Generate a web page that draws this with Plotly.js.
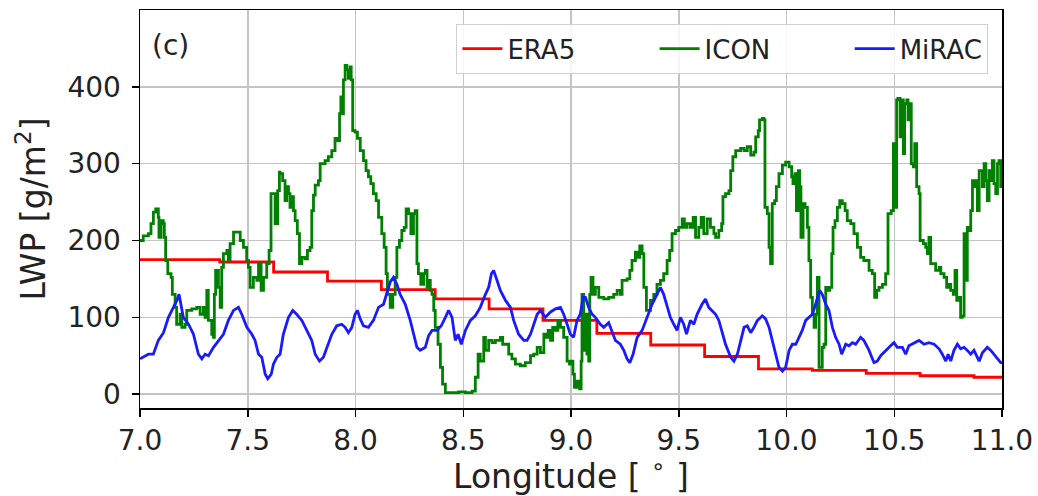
<!DOCTYPE html>
<html>
<head>
<meta charset="utf-8">
<script src="https://cdn.plot.ly/plotly-3.0.1.min.js"></script>
<style>html,body{margin:0;padding:0;background:#fff;}#chart{width:1038px;height:496px;}</style>
</head>
<body>
<div id="chart"></div>
<script>
// ERA5 (step data)
const era5Lon = [7.0,7.37,7.62,7.87,8.12,8.37,8.62,8.87,9.12,9.37,9.62,9.87,10.12,10.37,10.62,10.87,11.0];
const era5Lwp = [175,172,159,147,136,124,111,96,79,64,49,33,31,27,24,22,22];

// ICON
const iconLon = [
 7.000,7.015,7.039,7.051,7.062,7.073,7.085,7.088,7.098,7.108,7.113,7.119,7.129,7.144,7.150,7.163,7.170,7.186,7.194,7.209,
 7.217,7.240,7.263,7.279,7.294,7.302,7.310,7.317,7.333,7.341,7.345,7.351,7.364,7.372,7.379,7.387,7.403,7.410,7.418,7.434,
 7.449,7.465,7.480,7.495,7.503,7.511,7.526,7.542,7.550,7.562,7.573,7.588,7.599,7.608,7.619,7.627,7.639,7.647,
 7.650,7.662,7.673,7.681,7.689,7.696,7.704,7.712,7.720,7.730,7.740,7.751,7.766,7.777,7.789,7.797,7.805,7.813,7.828,7.836,
 7.859,7.874,7.890,7.905,7.916,7.926,7.932,7.936,7.944,7.952,7.960,7.967,7.975,7.980,7.987,7.998,8.009,8.022,8.037,8.049,
 8.060,8.071,8.083,8.096,8.107,8.122,8.133,8.142,8.148,8.161,8.173,8.184,8.192,8.204,8.215,8.226,8.235,8.246,8.257,8.269,
 8.277,8.285,8.292,8.303,8.316,
 8.324,8.332,8.339,8.347,8.355,8.363,8.370,8.383,8.394,8.404,8.417,8.448,8.479,8.510,8.541,8.556,8.569,8.579,8.595,8.603,
 8.618,8.634,8.649,8.672,8.683,8.696,8.711,8.726,8.742,8.765,8.788,8.812,8.827,8.843,8.858,8.874,8.884,8.894,8.905,8.915,
 8.928,8.939,8.951,8.966,8.982,8.993,
 8.997,9.009,9.016,9.028,9.040,9.047,9.051,9.059,9.067,9.074,9.082,9.087,9.093,9.102,9.113,9.129,9.152,9.175,9.198,9.214,
 9.229,9.237,9.260,9.273,9.283,9.299,9.307,9.319,9.330,9.338,9.350,9.369,9.384,9.399,9.415,9.430,9.446,9.458,9.469,9.485,
 9.500,9.516,9.526,9.539,9.554,9.567,9.578,9.593,9.604,9.616,9.632,9.647,9.663,
 9.671,9.686,9.699,9.705,9.717,9.733,9.741,9.751,9.764,9.787,9.803,9.818,9.834,9.849,9.857,9.869,9.875,9.888,9.895,9.900,
 9.911,9.919,9.926,9.934,9.945,9.953,9.965,9.981,9.996,10.012,10.024,10.030,10.039,10.046,10.055,10.061,10.067,10.077,10.086,10.097,
 10.104,10.112,10.120,10.128,10.135,10.143,10.151,10.159,10.166,10.174,10.182,10.190,10.200,10.210,10.216,10.225,10.236,10.247,10.259,10.272,
 10.282,10.298,10.313,10.329,
 10.344,10.359,10.375,10.383,10.398,10.409,10.418,10.429,10.445,10.460,10.471,10.486,10.496,10.503,10.511,10.517,10.527,10.533,10.542,10.548,
 10.558,10.564,10.573,10.579,10.589,10.595,10.604,10.615,10.620,10.635,10.646,10.654,10.661,10.669,10.685,10.692,10.708,10.716,10.731,10.743,
 10.754,10.762,10.774,10.782,10.790,10.801,10.808,10.816,10.824,10.832,10.839,10.847,10.855,10.863,10.870,10.878,10.886,10.894,10.901,10.909,
 10.917,10.925,10.932,10.940,10.948,10.955,10.963,10.971,10.979,10.986,10.994,11.000
];
const iconLwp = [
 200,206,209,222,237,241,230,204,226,222,204,174,157,152,130,113,91,104,87,91,
 109,111,113,104,113,100,135,96,78,74,130,161,139,113,165,183,187,174,196,211,
 211,200,191,174,165,139,152,148,170,135,152,170,187,261,261,222,265,289,
 287,278,252,270,261,243,257,239,226,209,170,178,176,187,191,239,259,272,278,300,
 304,309,317,333,330,365,387,365,409,428,422,411,426,409,343,341,333,317,304,291,
 283,274,261,252,230,209,191,157,130,113,130,152,191,200,213,217,241,235,209,235,
 239,170,157,143,157,
 161,139,148,135,130,109,87,65,35,13,2,2,3,2,4,22,52,43,74,57,
 70,67,70,74,65,65,52,46,39,37,41,50,52,61,54,78,74,83,70,87,
 83,96,87,74,43,39,
 43,26,9,17,7,43,130,57,104,52,43,130,152,130,139,126,124,126,130,135,
 130,148,150,161,174,185,178,193,183,139,109,122,130,143,148,157,174,187,209,213,
 217,228,217,222,217,230,204,217,230,209,228,217,209,
 204,213,222,257,261,265,291,309,317,320,317,322,311,315,335,343,357,359,357,243,
 235,191,170,248,252,270,287,298,302,296,283,274,287,239,291,270,204,248,243,217,
 174,126,104,87,104,152,35,35,61,65,139,135,139,183,217,226,243,252,248,239,
 226,222,209,191,
 178,174,174,161,157,126,135,139,143,157,235,239,326,243,383,385,335,383,313,378,
 383,357,378,300,296,326,270,261,200,196,191,183,204,170,170,161,165,157,152,139,
 143,135,130,161,122,126,100,102,209,148,217,213,239,278,270,278,239,291,291,270,
 300,278,252,291,278,304,274,261,300,304,270,304
];

// MiRAC
const miracLon = [
 7.000,7.023,7.039,7.062,7.085,7.109,7.132,7.155,7.171,7.181,7.191,7.201,7.225,7.248,7.271,7.287,7.302,7.318,7.341,7.364,
 7.387,7.410,7.434,7.457,7.472,7.496,7.519,7.534,7.550,7.565,7.581,7.593,7.609,7.619,7.635,
 7.650,7.665,7.689,7.709,7.727,7.751,7.774,7.797,7.813,7.833,7.851,7.867,7.890,7.913,7.936,7.952,7.967,7.983,7.998,8.009,
 8.022,8.037,8.060,8.083,8.107,8.130,8.145,8.161,8.176,8.192,8.207,8.231,8.254,8.269,8.285,8.300,
 8.324,8.339,8.355,8.378,8.398,8.417,8.432,8.448,8.463,8.476,8.491,8.510,8.533,8.556,8.579,8.603,8.618,8.631,8.641,8.657,
 8.672,8.696,8.719,8.734,8.757,8.781,8.796,8.812,8.827,8.843,8.858,8.881,8.905,8.928,8.951,8.966,8.982,
 8.997,9.012,9.028,9.043,9.056,9.067,9.082,9.098,9.113,9.136,9.152,9.175,9.190,9.206,9.229,9.245,9.260,9.273,9.288,9.307,
 9.330,9.353,9.376,9.399,9.415,9.430,9.446,9.461,9.477,9.492,9.508,9.523,9.536,9.554,9.570,9.585,9.608,9.624,9.639,9.655,
 9.671,9.686,9.702,9.717,9.741,9.756,9.772,9.787,9.803,9.818,9.834,9.849,9.865,9.888,9.903,9.919,9.934,9.950,9.965,9.981,
 9.996,10.012,10.027,10.043,10.058,10.073,10.089,10.104,10.120,10.135,10.154,10.166,10.182,10.197,10.213,10.228,10.244,10.256,10.275,10.290,
 10.306,10.321,
 10.344,10.359,10.383,10.406,10.421,10.437,10.460,10.483,10.499,10.514,10.538,10.553,10.568,10.592,10.615,10.638,10.661,10.685,10.708,10.723,
 10.739,10.750,10.762,10.777,10.793,10.808,10.824,10.839,10.855,10.870,10.894,10.909,10.932,10.948,10.963,10.979,10.994,11.000
];
const miracLwp = [
 46,50,52,52,70,80,100,113,122,130,117,100,91,78,52,46,52,50,61,70,
 78,96,109,113,104,87,78,70,52,48,26,20,26,39,48,
 52,78,100,109,104,96,83,70,52,43,48,61,78,89,91,87,80,87,104,109,
 98,89,87,96,113,117,130,146,152,143,130,117,96,78,61,57,
 61,76,83,83,89,100,109,100,70,78,65,83,96,102,113,130,139,157,161,148,
 135,122,113,96,78,70,70,78,91,104,109,100,107,111,113,104,91,
 78,74,96,104,126,126,113,104,100,91,87,93,83,70,65,57,46,41,52,74,
 83,100,117,130,139,130,113,100,91,83,100,91,78,96,91,104,117,124,113,109,
 104,96,78,65,48,43,52,70,87,89,80,87,96,102,98,87,70,52,35,30,
 35,57,65,65,74,83,96,100,104,117,135,130,117,109,87,74,65,52,65,63,
 67,65,
 74,70,57,41,43,50,57,63,67,61,61,52,63,67,70,65,67,65,59,52,
 43,52,43,57,65,59,61,57,52,57,43,54,61,57,52,46,41,41
];

const seriesNames = ['ERA5','ICON','MiRAC'];
const xTicks = [7.0,7.5,8.0,8.5,9.0,9.5,10.0,10.5,11.0];
const yTicks = [0,100,200,300,400];

const FONT = 'DejaVu Sans, sans-serif';
const PAD = '\u00a0'.repeat(9);
const traces = [
  {x: era5Lon, y: era5Lwp, name: seriesNames[0] + PAD, mode: 'lines', line: {color: '#ff0000', width: 2.8, shape: 'hv'}},
  {x: iconLon, y: iconLwp, name: seriesNames[1] + PAD, mode: 'lines', line: {color: '#008000', width: 2.8, shape: 'hv'}},
  {x: miracLon, y: miracLwp, name: seriesNames[2], mode: 'lines', line: {color: '#1a1aff', width: 2.8}}
];

const layout = {
  width: 1038, height: 496,
  margin: {l: 140, r: 36, t: 10, b: 88},
  paper_bgcolor: '#ffffff', plot_bgcolor: '#ffffff',
  font: {family: FONT, color: '#222', size: 26},
  showlegend: true,
  legend: {
    orientation: 'h', x: 0.984, xanchor: 'right', y: 0.965, yanchor: 'top',
    bgcolor: 'rgba(255,255,255,0.85)', bordercolor: '#d0d0d0', borderwidth: 1.2,
    font: {family: FONT, size: 26, color: '#222'},
    itemwidth: 40, traceorder: 'normal'
  },
  xaxis: {
    range: [7, 11], tickvals: xTicks, ticktext: xTicks.map(v => v.toFixed(1)),
    showgrid: true, gridcolor: '#c4c4c4', gridwidth: 1.5,
    showline: true, linecolor: '#000', linewidth: 1.5, mirror: true,
    ticks: 'outside', ticklen: 7, tickwidth: 1.5, tickcolor: '#000',
    tickfont: {family: FONT, size: 28, color: '#222'},
    zeroline: false,
    title: {text: 'Longitude [ <sup>∘</sup> ]\u00a0\u00a0\u00a0', font: {family: FONT, size: 33, color: '#222'}, standoff: 2}
  },
  yaxis: {
    range: [-18, 500], tickvals: yTicks, ticktext: yTicks.map(String),
    showgrid: true, gridcolor: '#c4c4c4', gridwidth: 1.5,
    showline: true, linecolor: '#000', linewidth: 1.5, mirror: true,
    ticks: 'outside', ticklen: 7, tickwidth: 1.5, tickcolor: '#000',
    tickfont: {family: FONT, size: 28, color: '#222'},
    ticklabelstandoff: 5,
    zeroline: false,
    title: {text: 'LWP [g/m<sup>2</sup>]', font: {family: FONT, size: 33, color: '#222'}, standoff: 12}
  },
  annotations: [{
    text: '(c)', xref: 'paper', yref: 'paper', x: 0.012, y: 0.912,
    xanchor: 'left', yanchor: 'middle', showarrow: false,
    font: {family: FONT, size: 28, color: '#222'}
  }]
};

Plotly.newPlot('chart', traces, layout, {displayModeBar: false, staticPlot: true});
</script>
</body>
</html>
